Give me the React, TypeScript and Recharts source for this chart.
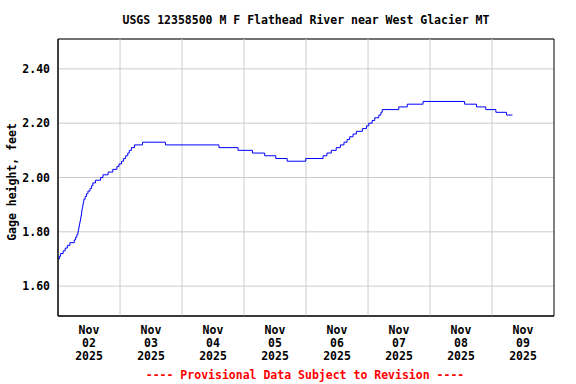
import {
  LineChart,
  Line,
  XAxis,
  YAxis,
  CartesianGrid,
  ReferenceLine,
  ReferenceArea,
} from "recharts";

// hours since Nov 02 2025 00:00, and gage height (ft) from that time on
const hours = [
  0, 0.5, 1.0, 2.0, 2.8, 3.6, 4.6, 6.3, 6.8, 7.3, 7.7, 7.9, 8.1, 8.3, 8.5, 8.7,
  8.9, 9.1, 9.2, 9.4, 9.6, 9.8, 10.0, 10.5, 11.0, 11.6, 12.4, 13.0, 13.5, 14.5,
  16.5, 17.4, 19.4, 21.2, 22.8, 23.6, 24.6, 25.4, 26.2, 27.0, 27.6, 28.4, 29.6,
  32.7, 41.6, 62.3, 69.7, 75.3, 80.0, 84.3, 88.7, 95.9, 102.6, 104.1, 105.8,
  107.7, 109.3, 110.7, 111.9, 112.9, 114.2, 115.5, 117.8, 119.4, 120.3, 121.6,
  122.6, 124.2, 125.0, 125.5, 131.9, 135.2, 141.3, 157.4, 162.0, 165.6, 169.5,
  173.6, 175.9,
];
const stage = [
  1.7, 1.71, 1.72, 1.73, 1.74, 1.75, 1.76, 1.77, 1.78, 1.79, 1.8, 1.81, 1.82,
  1.83, 1.84, 1.85, 1.86, 1.87, 1.88, 1.89, 1.9, 1.91, 1.92, 1.93, 1.94, 1.95,
  1.96, 1.97, 1.98, 1.99, 2.0, 2.01, 2.02, 2.03, 2.04, 2.05, 2.06, 2.07, 2.08,
  2.09, 2.1, 2.11, 2.12, 2.13, 2.12, 2.11, 2.1, 2.09, 2.08, 2.07, 2.06, 2.07,
  2.08, 2.09, 2.1, 2.11, 2.12, 2.13, 2.14, 2.15, 2.16, 2.17, 2.18, 2.19, 2.2,
  2.21, 2.22, 2.23, 2.24, 2.25, 2.26, 2.27, 2.28, 2.27, 2.26, 2.25, 2.24, 2.23,
  2.23,
];

const xDomain = [0, 192];
const yDomain = [1.49, 2.51];
const dayBoundaries = [24, 48, 72, 96, 120, 144, 168];
const labelHours = [12, 36, 60, 84, 108, 132, 156, 180];
const tickLabels = [
  ["Nov", "02", "2025"],
  ["Nov", "03", "2025"],
  ["Nov", "04", "2025"],
  ["Nov", "05", "2025"],
  ["Nov", "06", "2025"],
  ["Nov", "07", "2025"],
  ["Nov", "08", "2025"],
  ["Nov", "09", "2025"],
];
const yTicks = [1.6, 1.8, 2.0, 2.2, 2.4];

const data = hours.map((h, i) => ({ h, v: stage[i] }));

const FONT = "'DejaVu Sans Mono', 'Liberation Mono', monospace";

const DateTick = ({ x, y, payload }: any) => {
  const lines = tickLabels[labelHours.indexOf(payload.value)] || [];
  return (
    <text
      x={x}
      y={y + 2}
      textAnchor="middle"
      fill="#000"
      fontFamily={FONT}
      fontWeight="bold"
      fontSize={11.5}
    >
      {lines.map((l, i) => (
        <tspan key={i} x={x} dy={i === 0 ? "0.71em" : 13}>
          {l}
        </tspan>
      ))}
    </text>
  );
};

const textStyle: any = {
  position: "absolute",
  fontFamily: FONT,
  fontWeight: "bold",
  fontSize: 11.5,
  lineHeight: "14px",
  whiteSpace: "nowrap",
};

export default function App() {
  return (
    <div
      style={{
        position: "absolute",
        left: 0,
        top: 0,
        width: 576,
        height: 384,
        background: "#fff",
      }}
    >
      <div style={{ ...textStyle, left: 0, width: 612, top: 13, textAlign: "center" }}>
        USGS 12358500 M F Flathead River near West Glacier MT
      </div>
      <div
        style={{
          ...textStyle,
          left: 12,
          top: 182,
          transform: "translate(-50%, -50%) rotate(-90deg)",
        }}
      >
        Gage height, feet
      </div>
      <LineChart
        width={576}
        height={384}
        data={data}
        margin={{ top: 39, right: 22, bottom: 0, left: 0 }}
      >
        <CartesianGrid vertical={false} stroke="#cccccc" />
        {dayBoundaries.map((d) => (
          <ReferenceLine key={d} x={d} stroke="#cccccc" />
        ))}
        <XAxis
          dataKey="h"
          type="number"
          domain={xDomain}
          ticks={labelHours}
          interval={0}
          height={68}
          tickLine={false}
          axisLine={{ stroke: "#000" }}
          tick={<DateTick />}
        />
        <YAxis
          type="number"
          domain={yDomain}
          ticks={yTicks}
          width={58}
          tickLine={false}
          axisLine={{ stroke: "#000" }}
          tickFormatter={(v: number) => v.toFixed(2)}
          tick={{
            fill: "#000",
            fontFamily: FONT,
            fontWeight: "bold",
            fontSize: 11.5,
          }}
        />
        <ReferenceArea
          x1={xDomain[0]}
          x2={xDomain[1]}
          y1={yDomain[0]}
          y2={yDomain[1]}
          fill="none"
          fillOpacity={0}
          stroke="#000"
          strokeWidth={1}
        />
        <Line
          type="stepAfter"
          dataKey="v"
          stroke="#0000ff"
          strokeWidth={1}
          dot={false}
          isAnimationActive={false}
        />
      </LineChart>
      <div
        style={{
          ...textStyle,
          left: 0,
          width: 610,
          top: 368,
          textAlign: "center",
          color: "#ff0000",
        }}
      >
        ---- Provisional Data Subject to Revision ----
      </div>
    </div>
  );
}
